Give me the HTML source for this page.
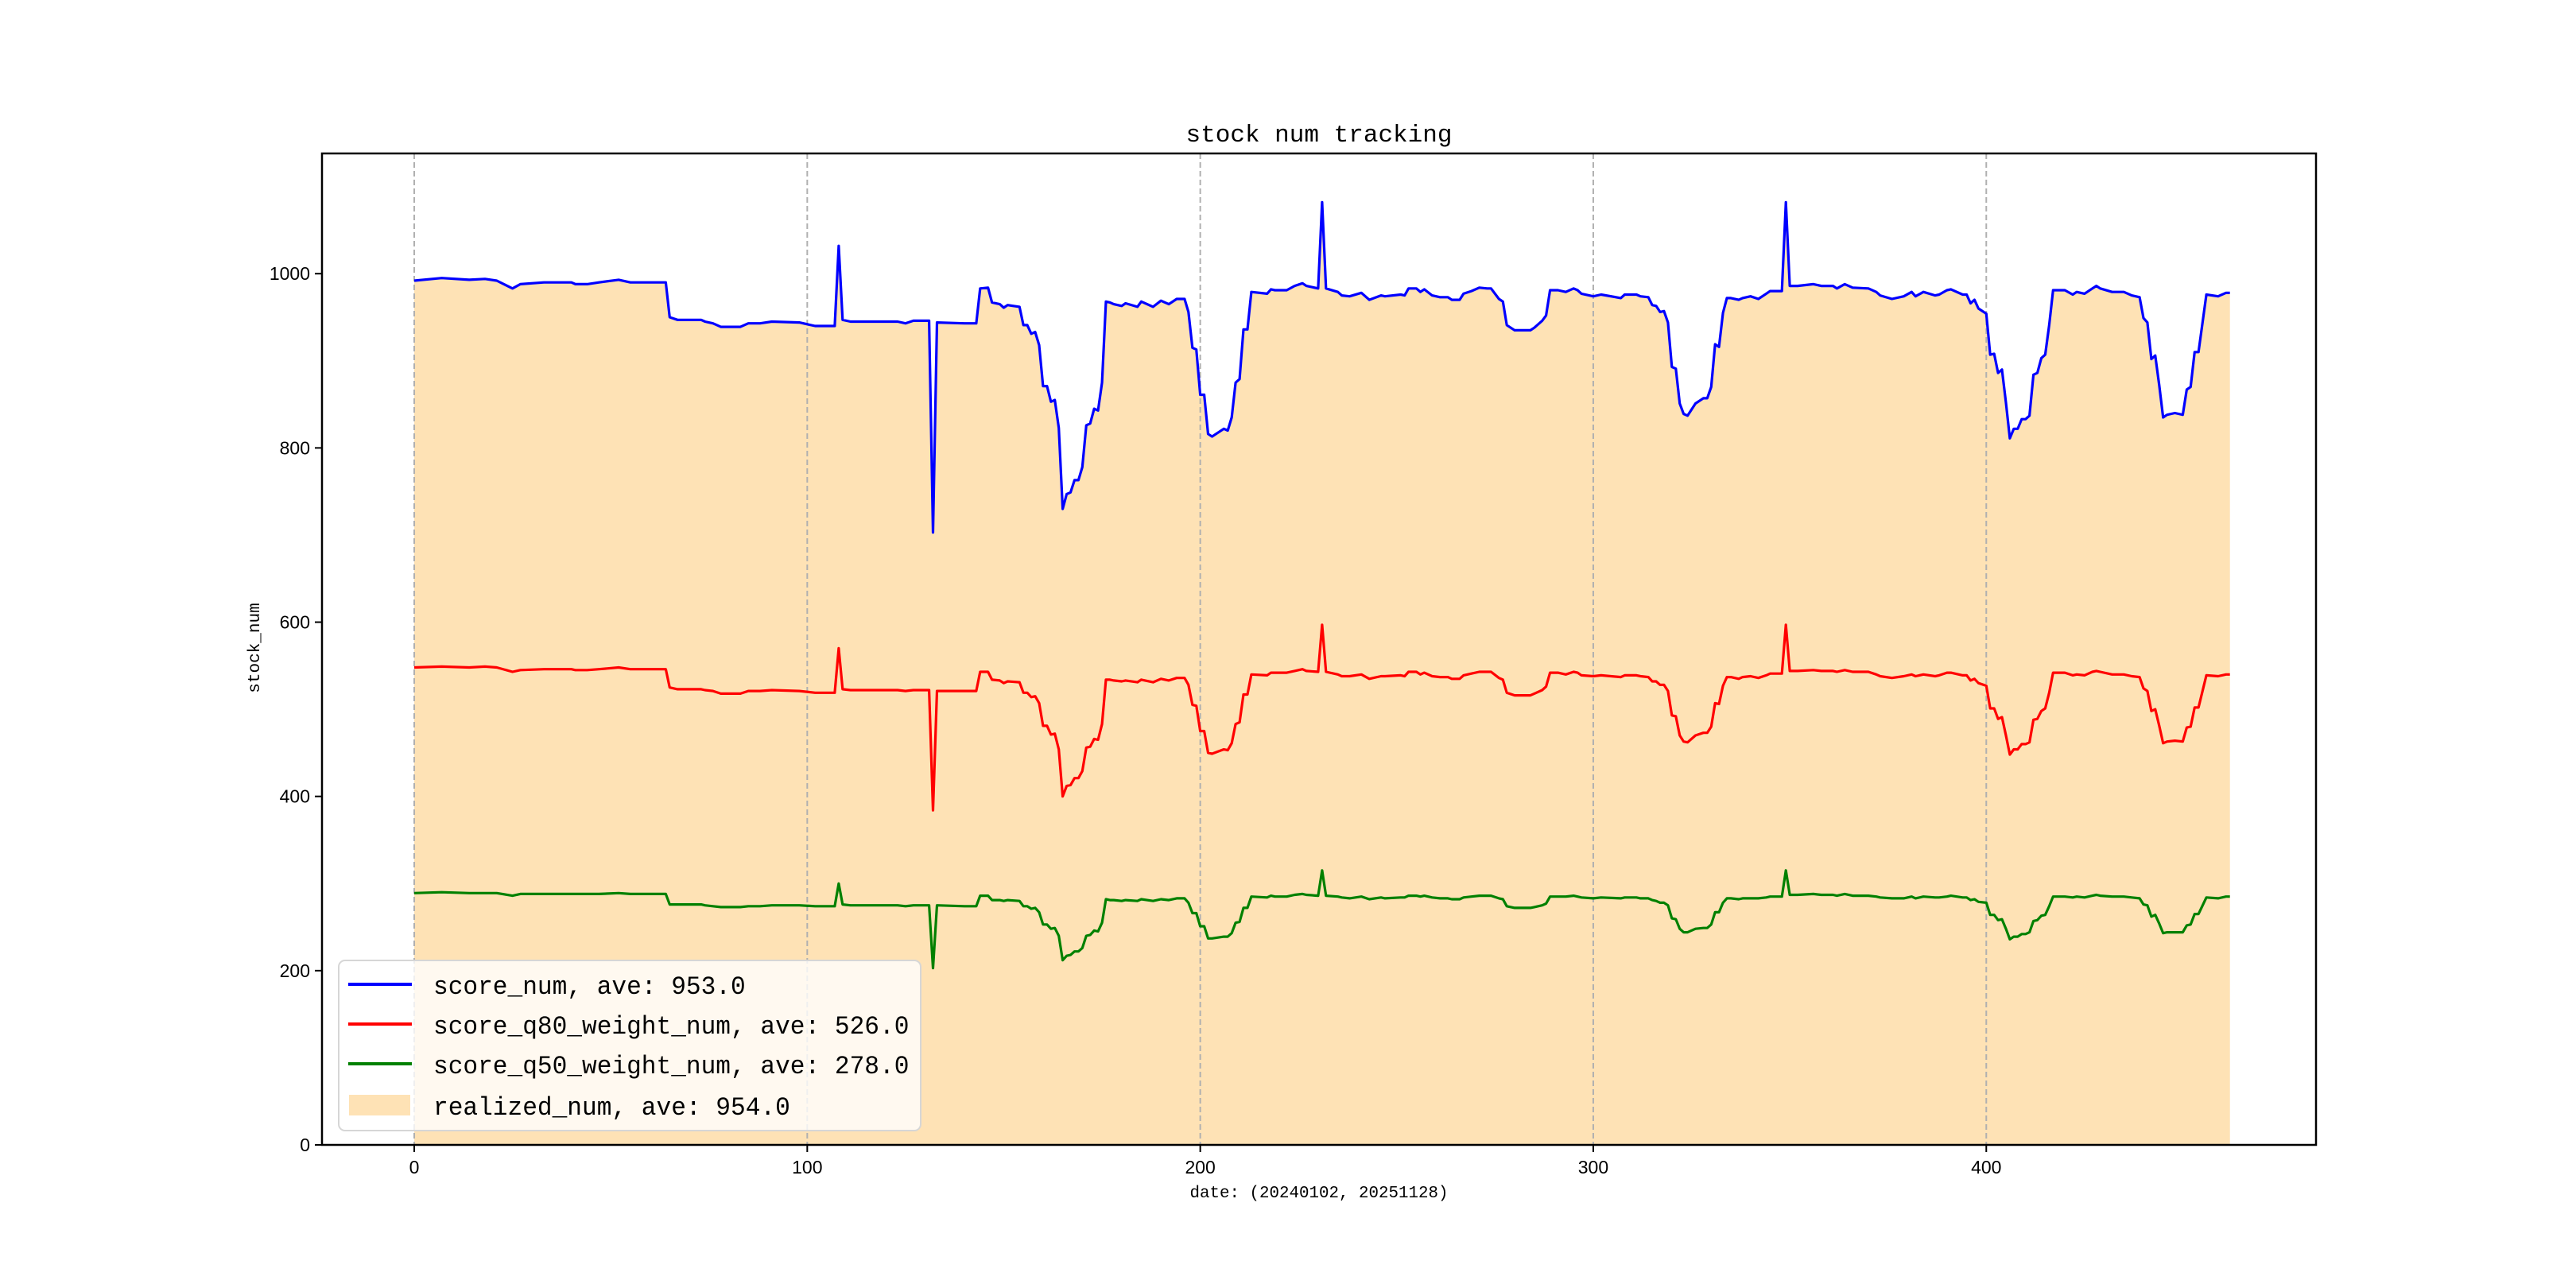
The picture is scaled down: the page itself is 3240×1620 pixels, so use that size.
<!DOCTYPE html>
<html><head><meta charset="utf-8">
<style>
html,body{margin:0;padding:0;background:#fff;}
svg{display:block;}
text{font-family:"Liberation Mono","Noto Sans CJK SC",monospace;fill:#000;}
.tick{font-family:"Liberation Sans","Noto Sans CJK SC",sans-serif;font-size:23px;}
</style></head>
<body>
<svg id="chart" width="3240" height="1620" viewBox="0 0 3240 1620" xmlns="http://www.w3.org/2000/svg">
<rect x="0" y="0" width="3240" height="1620" fill="#fff"/>
<g id="plot"></g>
</svg>
<script>
const dayIndex=[0,7,14,18,21,25,27,33,40,41,44,47,52,55,64,
65,67,73,74,76,78,83,85,88,91,98,102,107,
108,109,111,123,125,127,131,132,133,140,143,
144,146,147,149,150,151,154,155,156,157,158,159,160,161,162,163,164,165,166,167,168,169,170,171,172,173,174,175,
176,177,178,180,181,184,185,188,190,192,194,196,
197,198,199,200,201,202,203,206,207,208,209,210,211,212,
213,217,218,219,222,224,226,227,230,
231,232,235,236,238,241,243,246,247,251,252,253,255,256,257,259,261,263,264,266,267,269,271,273,274,
276,277,278,280,284,285,287,288,
289,291,293,295,296,297,300,302,307,308,311,312,314,
315,316,317,318,319,320,321,322,323,324,326,328,329,330,331,332,333,
334,335,337,338,340,342,344,345,348,
349,350,352,356,358,361,362,364,366,370,372,373,376,379,381,382,384,387,388,390,391,394,395,
396,397,398,400,401,402,403,404,405,406,407,408,409,410,411,412,413,414,415,416,
417,420,422,423,425,427,428,429,432,435,437,439,
440,441,442,443,444,445,446,448,450,451,452,453,454,456,459,461,462];
const scoreNum=[992,995,993,994,992,983,988,990,990,988,988,990,993,990,990,
950,947,947,945,943,939,939,943,943,945,944,940,940,
1032,947,945,945,943,946,946,703,944,943,943,
983,984,967,965,961,964,962,941,941,931,933,918,871,871,853,855,823,730,747,749,763,763,778,826,828,845,843,875,
968,967,965,963,966,962,968,962,969,965,971,971,
956,915,913,861,861,816,813,822,820,835,875,879,936,936,
979,977,982,981,981,986,989,986,983,
1082,983,979,975,974,978,970,975,974,976,975,983,983,979,982,975,973,973,970,970,977,980,984,983,983,
971,968,941,935,935,938,946,952,
981,981,979,983,981,977,974,976,972,976,976,974,973,
964,963,956,957,944,893,891,851,839,837,851,857,857,870,919,916,955,
972,972,970,972,974,971,977,980,980,
1082,986,986,988,986,986,983,988,984,983,979,975,971,974,979,974,979,975,976,981,982,976,976,
966,970,960,954,907,908,886,890,852,811,822,822,833,833,837,884,886,903,907,941,
981,981,976,979,977,983,986,983,979,979,975,973,
949,944,902,906,872,835,838,840,838,867,870,910,910,976,974,978,978];
const q80Num=[548,549,548,549,548,543,545,546,546,545,545,546,548,546,546,
525,523,523,522,521,518,518,521,521,522,521,519,519,
570,523,522,522,521,522,522,384,521,521,521,
543,543,534,533,530,532,531,519,519,514,515,507,481,481,471,472,454,400,412,413,421,421,429,456,457,466,465,483,
534,534,533,532,533,531,534,531,535,533,536,536,
528,505,504,475,475,450,449,454,453,461,483,485,517,517,
540,539,542,542,542,544,546,544,543,
597,543,540,538,538,540,535,538,538,539,538,543,543,540,542,538,537,537,535,535,539,541,543,543,543,
536,534,519,516,516,518,522,526,
542,542,540,543,542,539,538,539,537,539,539,538,537,
532,532,528,528,521,493,492,470,463,462,470,473,473,480,507,506,527,
537,537,535,537,538,536,539,541,541,
597,544,544,545,544,544,543,545,543,543,540,538,536,538,540,538,540,538,539,542,542,539,539,
533,535,530,527,501,501,489,491,470,448,454,454,460,460,462,488,489,498,501,519,
542,542,539,540,539,543,544,543,540,540,538,537,
524,521,498,500,481,461,463,464,463,479,480,502,502,539,538,540,540];
const q50Num=[289,290,289,289,289,286,288,288,288,288,288,288,289,288,288,
276,276,276,275,274,273,273,274,274,275,275,274,274,
300,276,275,275,274,275,275,203,275,274,274,
286,286,281,281,280,281,280,274,274,271,272,267,253,253,248,249,240,212,217,218,222,222,226,240,241,246,245,255,
282,281,281,280,281,280,282,280,282,281,283,283,
278,266,266,251,251,237,237,239,239,243,255,256,272,272,
285,284,286,285,285,287,288,287,286,
315,286,285,284,283,285,282,284,283,284,284,286,286,285,286,284,283,283,282,282,284,285,286,286,286,
283,282,274,272,272,273,275,277,
285,285,285,286,285,284,283,284,283,284,284,283,283,
281,280,278,278,275,260,259,248,244,244,248,249,249,253,267,267,278,
283,283,282,283,283,283,284,285,285,
315,287,287,288,287,287,286,288,286,286,285,284,283,283,285,283,285,284,284,285,286,284,284,
281,282,279,278,264,264,258,259,248,236,239,239,242,242,244,257,258,263,264,274,
285,285,284,285,284,286,287,286,285,285,284,283,
276,275,262,264,254,243,244,244,244,252,253,265,265,284,283,285,285];
const realizedNum=[992,995,993,994,992,983,988,990,990,988,988,990,993,990,990,
950,947,947,945,943,939,939,943,943,945,944,940,940,
1032,947,945,945,943,946,946,703,944,943,943,
983,984,967,965,961,964,962,941,941,931,933,918,871,871,853,855,823,730,747,749,763,763,778,826,828,845,843,875,
968,967,965,963,966,962,968,962,969,965,971,971,
956,915,913,861,861,816,813,822,820,835,875,879,936,936,
979,977,982,981,981,986,989,986,983,
1082,983,979,975,974,978,970,975,974,976,975,983,983,979,982,975,973,973,970,970,977,980,984,983,983,
971,968,941,935,935,938,946,952,
981,981,979,983,981,977,974,976,972,976,976,974,973,
964,963,956,957,944,893,891,851,839,837,851,857,857,870,919,916,955,
972,972,970,972,974,971,977,980,980,
1082,986,986,988,986,986,983,988,984,983,979,975,971,974,979,974,979,975,976,981,982,976,976,
966,970,960,954,907,908,886,890,852,811,822,822,833,833,837,884,886,903,907,941,
981,981,976,979,977,983,986,983,979,979,975,973,
949,944,902,906,872,835,838,840,838,867,870,910,910,976,974,978,978];
const xTicks=[0,100,200,300,400];
const yTicks=[0,200,400,600,800,1000];
const legendLabels=["score_num, ave: 953.0","score_q80_weight_num, ave: 526.0","score_q50_weight_num, ave: 278.0","realized_num, ave: 954.0"];

const NS="http://www.w3.org/2000/svg";
const L=405,R=2913,T=193,B=1440;
const XMIN=-23.47,XMAX=483.9,YMIN=0,YMAX=1138;
function sx(v){return L+(v-XMIN)/(XMAX-XMIN)*(R-L);}
function sy(v){return B-(v-YMIN)/(YMAX-YMIN)*(B-T);}
const plot=document.getElementById('plot');
function mk(tag,attrs,parent){const e=document.createElementNS(NS,tag);for(const k in attrs)e.setAttribute(k,attrs[k]);(parent||plot).appendChild(e);return e;}

let n=Math.min(dayIndex.length,realizedNum.length);
let d="M"+sx(dayIndex[0])+","+sy(0);
for(let i=0;i<n;i++)d+="L"+sx(dayIndex[i]).toFixed(1)+","+sy(realizedNum[i]).toFixed(1);
d+="L"+sx(dayIndex[n-1])+","+sy(0)+"Z";
const fill=mk('path',{d:d,fill:'#fee2b5',stroke:'none'});



xTicks.forEach(t=>{
  const g=mk('line',{x1:sx(t),x2:sx(t),y1:T,y2:B,stroke:'#b0b0b0','stroke-width':2,'stroke-dasharray':'7,4'});
  
  
});

function line(vals,color,name){
  const m=Math.min(dayIndex.length,vals.length);
  let p="";
  for(let i=0;i<m;i++)p+=(i?"L":"M")+sx(dayIndex[i]).toFixed(1)+","+sy(vals[i]).toFixed(1);
  const e=mk('path',{d:p,fill:'none',stroke:color,'stroke-width':3.2,'stroke-linejoin':'round'});
  
  
}
line(scoreNum,'#0000ff','score-num-line');
line(q80Num,'#ff0000','score-q80-line');
line(q50Num,'#008000','score-q50-line');

const fr=mk('rect',{x:L,y:T,width:R-L,height:B-T,fill:'none',stroke:'#000','stroke-width':2.5});



xTicks.forEach(t=>{
  const tk=mk('line',{x1:sx(t),x2:sx(t),y1:B,y2:B+9,stroke:'#000','stroke-width':2});
  
  
  const tl=mk('text',{x:sx(t),y:B+36,'text-anchor':'middle','class':'tick'});
  tl.textContent=String(t);
  
  
});
yTicks.forEach(t=>{
  const tk=mk('line',{x1:L-9,x2:L,y1:sy(t),y2:sy(t),stroke:'#000','stroke-width':2});
  
  
  const tl=mk('text',{x:L-15,y:sy(t)+8,'text-anchor':'end','class':'tick'});
  tl.textContent=String(t);
  
  
});

const title=mk('text',{x:(L+R)/2,y:178,'text-anchor':'middle','font-size':31,textLength:335,lengthAdjust:'spacingAndGlyphs'});
title.textContent="stock num tracking";


const xl=mk('text',{x:(L+R)/2,y:1506,'text-anchor':'middle','font-size':21,textLength:325,lengthAdjust:'spacingAndGlyphs'});
xl.textContent="date: (20240102, 20251128)";


const yl=mk('text',{x:0,y:0,'text-anchor':'middle','font-size':21,transform:'translate(326,815) rotate(-90)'});
yl.textContent="stock_num";



const lg=mk('g',{});


const box=mk('rect',{x:426,y:1208,width:732,height:214,rx:8,fill:'#fff','fill-opacity':0.8,stroke:'#d6d6d6','stroke-width':2},lg);


const colors=['#0000ff','#ff0000','#008000','#fee2b5'];
const rowY=[1238,1288,1338,1390];
legendLabels.forEach((lab,i)=>{
  const g=mk('g',{},lg);
  
  
  if(i<3){
    const h=mk('line',{x1:438,x2:518,y1:rowY[i],y2:rowY[i],stroke:colors[i],'stroke-width':4},g);
    
    
  } else {
    const h=mk('rect',{x:439,y:rowY[i]-13,width:77,height:26,fill:colors[i]},g);
    
    
  }
  const t=mk('text',{x:545,y:rowY[i]+12,'font-size':32,textLength:lab.length*18.7,lengthAdjust:'spacingAndGlyphs'},g);
  t.textContent=lab;
  
  
});
</script>
</body></html>
